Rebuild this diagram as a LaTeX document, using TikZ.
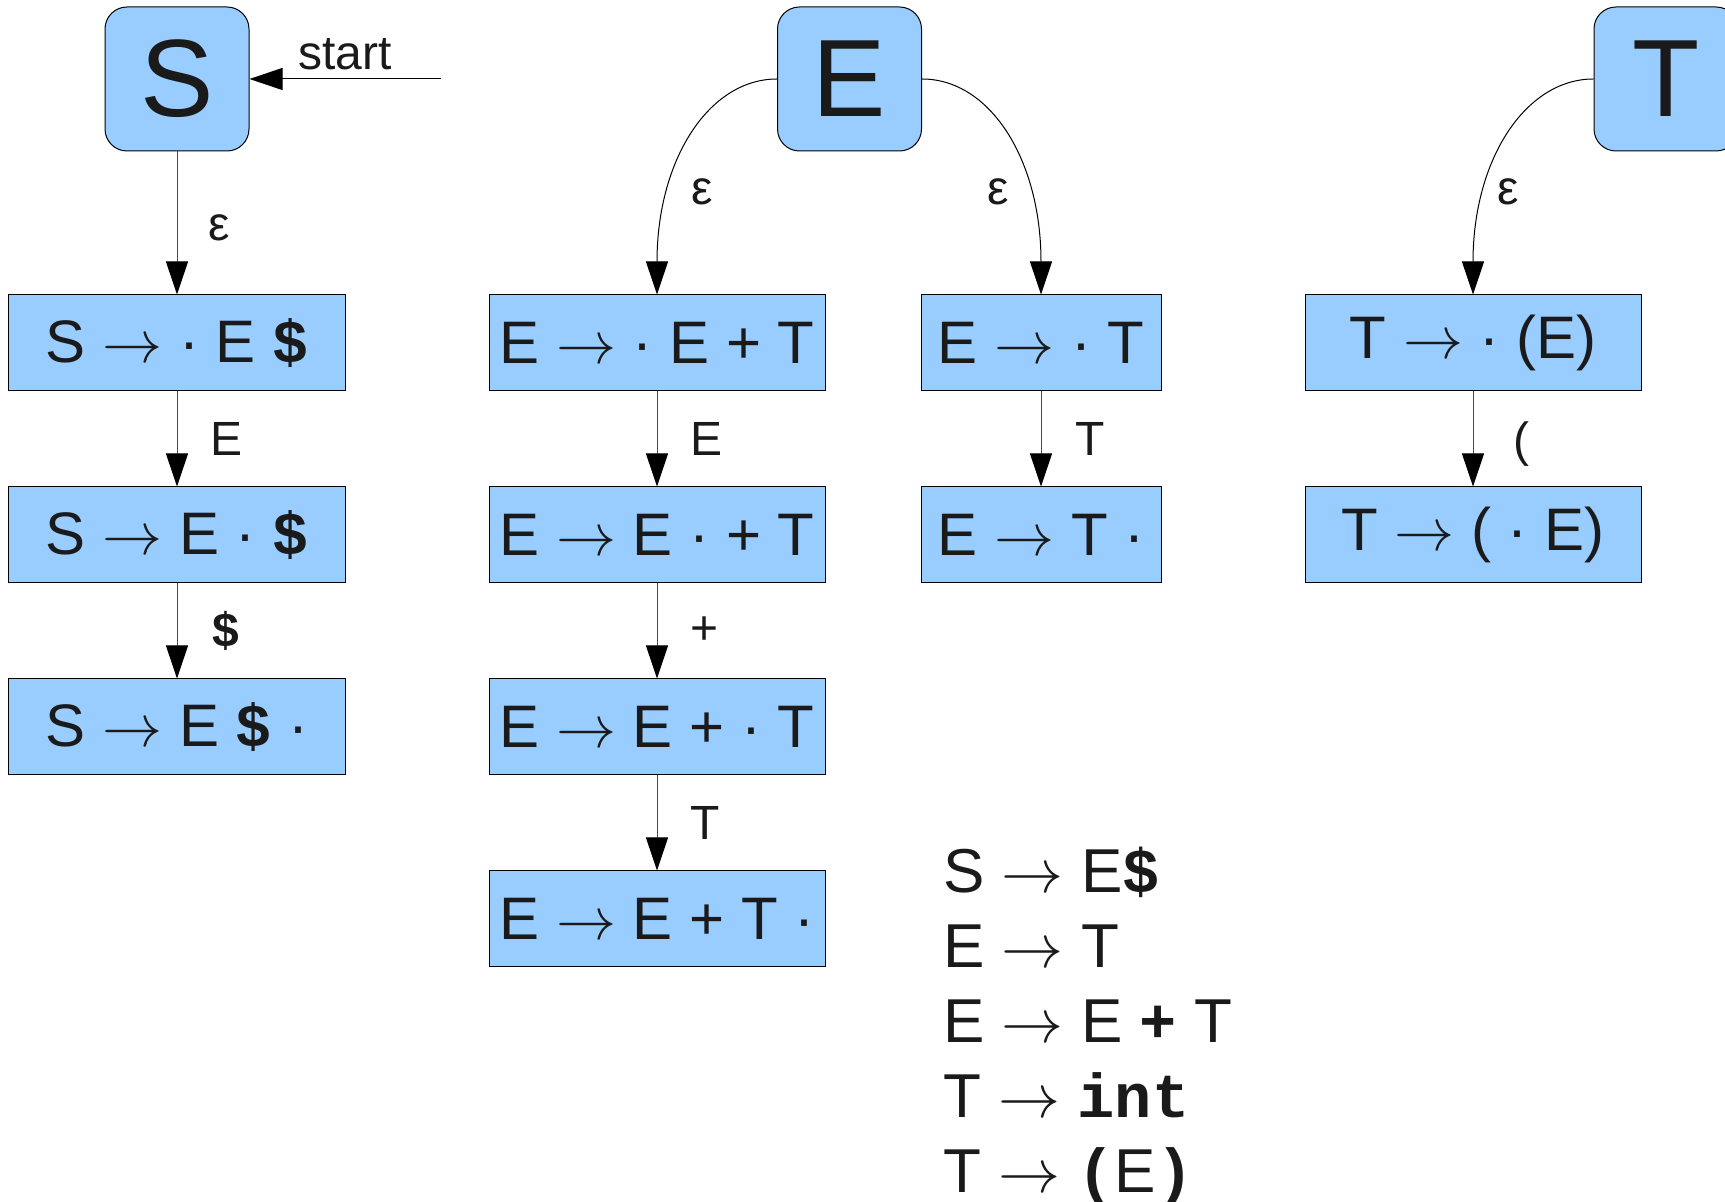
\RequirePackage{fix-cm}
\documentclass[tikz,border=0pt]{standalone}
\usepackage{fontspec}
\setmainfont{Liberation Sans}
\setmonofont{Liberation Mono}
\usepackage{tikz}
\usetikzlibrary{arrows.meta}
\definecolor{itemblue}{HTML}{99CCFF}
\definecolor{ink}{HTML}{1A1A1A}
\newcommand{\tto}{$\rightarrow$}
\newcommand{\tok}[1]{{\ttfamily\bfseries #1}}

\begin{document}
\begin{tikzpicture}[x=0.5pt, y=-0.5pt, node distance=96pt,
    every node/.style={text=ink},
    nonterm/.style={draw, fill=itemblue, rounded corners=11pt, line width=0.5pt, minimum width=72pt, minimum height=72pt, inner sep=0pt, font=\fontsize{55}{55}\selectfont},
    item/.style={draw, fill=itemblue, line width=0.5pt, minimum height=48pt, inner sep=0pt, font=\fontsize{30}{36}\selectfont},
    lbl/.style={font=\fontsize{24}{28}\selectfont, inner sep=0pt},
    shiftarrow/.style={draw=black!70, line width=0.5pt, -{Triangle[length=16.5pt, width=11pt, color=black]}},
    closurearrow/.style={draw=black, line width=0.5pt, -{Triangle[length=16.5pt, width=11pt]}}]
    \clip (0,0) rectangle (1725,1202);

    % nonterminals
    \node[nonterm] (S) at (177,79) {S};
    \node[nonterm] (E) at (849.5,79) {E};
    \node[nonterm] (T) at (1666,79) {T};
    \coordinate (in) at (441,79);

    % items of S
    \node[item, minimum width=168.5pt] (s1) at (177,343) {S \tto{} · E \tok{\$}};
    \node[item, minimum width=168.5pt, below of=s1] (s2) {S \tto{} E · \tok{\$}};
    \node[item, minimum width=168.5pt, below of=s2] (s3) {S \tto{} E \tok{\$} ·};

    % items of E
    \node[item, minimum width=168pt] (e1) at (657,343) {E \tto{} · E + T};
    \node[item, minimum width=168pt, below of=e1] (e2) {E \tto{} E · + T};
    \node[item, minimum width=168pt, below of=e2] (e3) {E \tto{} E + · T};
    \node[item, minimum width=168pt, below of=e3] (e4) {E \tto{} E + T ·};
    \node[item, minimum width=120pt] (f1) at (1041,343) {E \tto{} · T};
    \node[item, minimum width=120pt, below of=f1] (f2) {E \tto{} T ·};

    % items of T
    \node[item, minimum width=168pt] (t1) at (1473,343) {T \tto{} · (E)};
    \node[item, minimum width=168pt, below of=t1] (t2) {T \tto{} ( · E)};

    % grammar
    \node[anchor=north west, inner sep=0pt, align=left, font=\fontsize{31}{37.5}\selectfont] (rules) at (943,847)
        {S \tto{} E\tok{\$}\\
         E \tto{} T\\
         E \tto{} E \tok{+} T\\
         T \tto{} \tok{int}\\
         T \tto{} \tok{(}E\tok{)}};

    \draw[closurearrow] (in) -- node[lbl, above=4.5pt] {start} (S.east);
    \draw[shiftarrow] (S.south) -- node[lbl, right=15.5pt, yshift=-2.5pt] {ε} (s1.north);
    \draw[shiftarrow] (s1) -- node[lbl, right=16.5pt] {E} (s2);
    \draw[shiftarrow] (s2) -- node[lbl, right=17pt] {\tok{\$}} (s3);

    \draw[closurearrow] (E.west) .. controls +(-68,0) and +(0,-135) .. node[lbl, pos=0.71, right=11pt] {ε} (e1.north);
    \draw[closurearrow] (E.east) .. controls +(68,0) and +(0,-135) .. node[lbl, pos=0.71, left=10pt] {ε} (f1.north);
    \draw[shiftarrow] (e1) -- node[lbl, right=16.5pt] {E} (e2);
    \draw[shiftarrow] (e2) -- node[lbl, right=16.5pt] {+} (e3);
    \draw[shiftarrow] (e3) -- node[lbl, right=16.5pt] {T} (e4);
    \draw[shiftarrow] (f1) -- node[lbl, right=17pt] {T} (f2);

    \draw[closurearrow] (T.west) .. controls +(-68,0) and +(0,-135) .. node[lbl, pos=0.71, right=6pt] {ε} (t1.north);
    \draw[shiftarrow] (t1) -- node[lbl, right=20pt, yshift=-2.5pt] {(} (t2);
\end{tikzpicture}
\end{document}
